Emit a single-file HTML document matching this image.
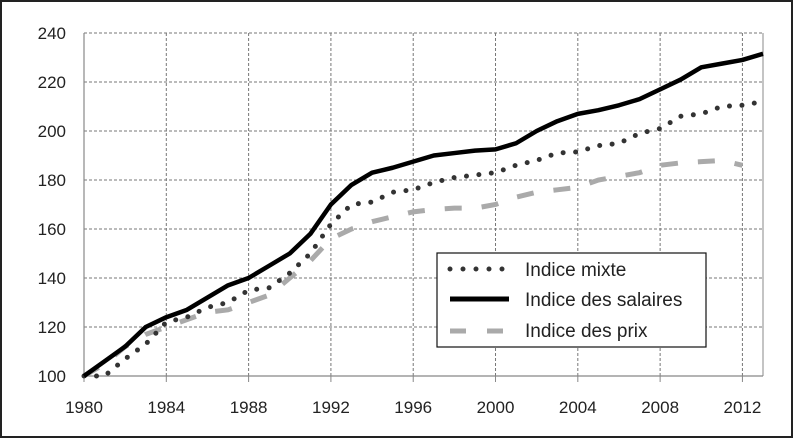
<!DOCTYPE html>
<html><head><meta charset="utf-8"><style>
body{margin:0;background:#fff}
svg{display:block;font-family:"Liberation Sans",sans-serif}
</style></head><body>
<svg width="800" height="446">
<rect x="1" y="1" width="791" height="436" fill="#fff" stroke="#222" stroke-width="2"/>
<g id="grid"></g><g id="axes"></g><g id="series"></g>
<g>
<rect x="437" y="253" width="269" height="94" fill="#fff" stroke="#111" stroke-width="1.2"/>
<line x1="450" y1="269" x2="508" y2="269" stroke="#333" stroke-width="5" stroke-linecap="round" stroke-dasharray="0 13"/>
<text x="525" y="276" font-size="19" fill="#222">Indice mixte</text>
<line x1="450" y1="299" x2="509" y2="299" stroke="#000" stroke-width="5"/>
<text x="525" y="306" font-size="19" fill="#222">Indice des salaires</text>
<line x1="450" y1="331" x2="509" y2="331" stroke="#aaa" stroke-width="5" stroke-dasharray="16 21"/>
<text x="525" y="337" font-size="19" fill="#222">Indice des prix</text>
</g>
</svg>
<script>
const years=[1980,1981,1982,1983,1984,1985,1986,1987,1988,1989,1990,1991,1992,1993,1994,1995,1996,1997,1998,1999,2000,2001,2002,2003,2004,2005,2006,2007,2008,2009,2010,2011,2012,2013];
const salaires=[100,106,112,120,124,127,132,137,140,145,150,158,170,178,183,185,187.5,190,191,192,192.5,195,200,204,207,208.5,210.5,213,217,221,226,227.5,229,231.5];
const mixte=[100,100,107,113,122,124,128,130,135,136,142,150,162,170,171,175,176,179,181,182,183,186,188,191,191.5,194,195,199,201,206,207,210,210.5,212];
const prixYears=[1980,1981,1982,1983,1984,1985,1986,1987,1988,1989,1990,1991,1992,1993,1994,1995,1996,1997,1998,1999,2000,2001,2002,2003,2004,2005,2006,2007,2008,2009,2010,2011,2012];
const prix=[100,105,112,117,120,123,126,127,130,133,140,147,156,160,163,165,167,168,168.5,168.5,170,173,175,176,177,180,181.5,183,186,187,187.5,188,186];
const yTicks=[100,120,140,160,180,200,220,240];
const xTicks=[1980,1984,1988,1992,1996,2000,2004,2008,2012];
const NS='http://www.w3.org/2000/svg';
const X=v=>84+(v-1980)*(763-84)/33;
const Y=v=>376-(v-100)*(376-33)/140;
function mk(p,t,a){const e=document.createElementNS(NS,t);for(const k in a)e.setAttribute(k,a[k]);p.appendChild(e);return e;}
const grid=document.getElementById('grid'),axes=document.getElementById('axes'),ser=document.getElementById('series');
yTicks.forEach(v=>{
 if(v>100){const l=mk(grid,'line',{x1:X(1980),x2:X(2013),y1:Y(v),y2:Y(v),stroke:'#777','stroke-width':1,'stroke-dasharray':'3 2'});
 
 }
 const t=mk(axes,'text',{x:66,y:Y(v)+6,'text-anchor':'end','font-size':17,fill:'#222'});t.textContent=v;
 
 
});
xTicks.forEach(v=>{
 if(v>1980){const l=mk(grid,'line',{x1:X(v),x2:X(v),y1:Y(240),y2:Y(100),stroke:'#777','stroke-width':1,'stroke-dasharray':'3 2'});
 
 }
 const tk=mk(axes,'line',{x1:X(v),x2:X(v),y1:Y(100),y2:Y(100)+6,stroke:'#888'});
 
 
 const t=mk(axes,'text',{x:X(v),y:413,'text-anchor':'middle','font-size':17,fill:'#222'});t.textContent=v;
 
 
});
const rl=mk(grid,'line',{x1:X(2013),x2:X(2013),y1:Y(240),y2:Y(100),stroke:'#888'});


const ax=mk(axes,'path',{d:`M${X(1980)},${Y(240)}V${Y(100)}H${X(2013)}`,fill:'none',stroke:'#888','stroke-width':1.2});


const pts=(xs,ys)=>xs.map((x,i)=>X(x)+','+Y(ys[i])).join(' ');
const p1=mk(ser,'polyline',{points:pts(prixYears,prix),fill:'none',stroke:'#aaa','stroke-width':5,'stroke-dasharray':'17 20'});


const p2=mk(ser,'polyline',{points:pts(years,mixte),fill:'none',stroke:'#333','stroke-width':5,'stroke-linecap':'round','stroke-dasharray':'0 12.5'});


const p3=mk(ser,'polyline',{points:pts(years,salaires),fill:'none',stroke:'#000','stroke-width':4.5,'stroke-linejoin':'round'});


</script>
</body></html>
